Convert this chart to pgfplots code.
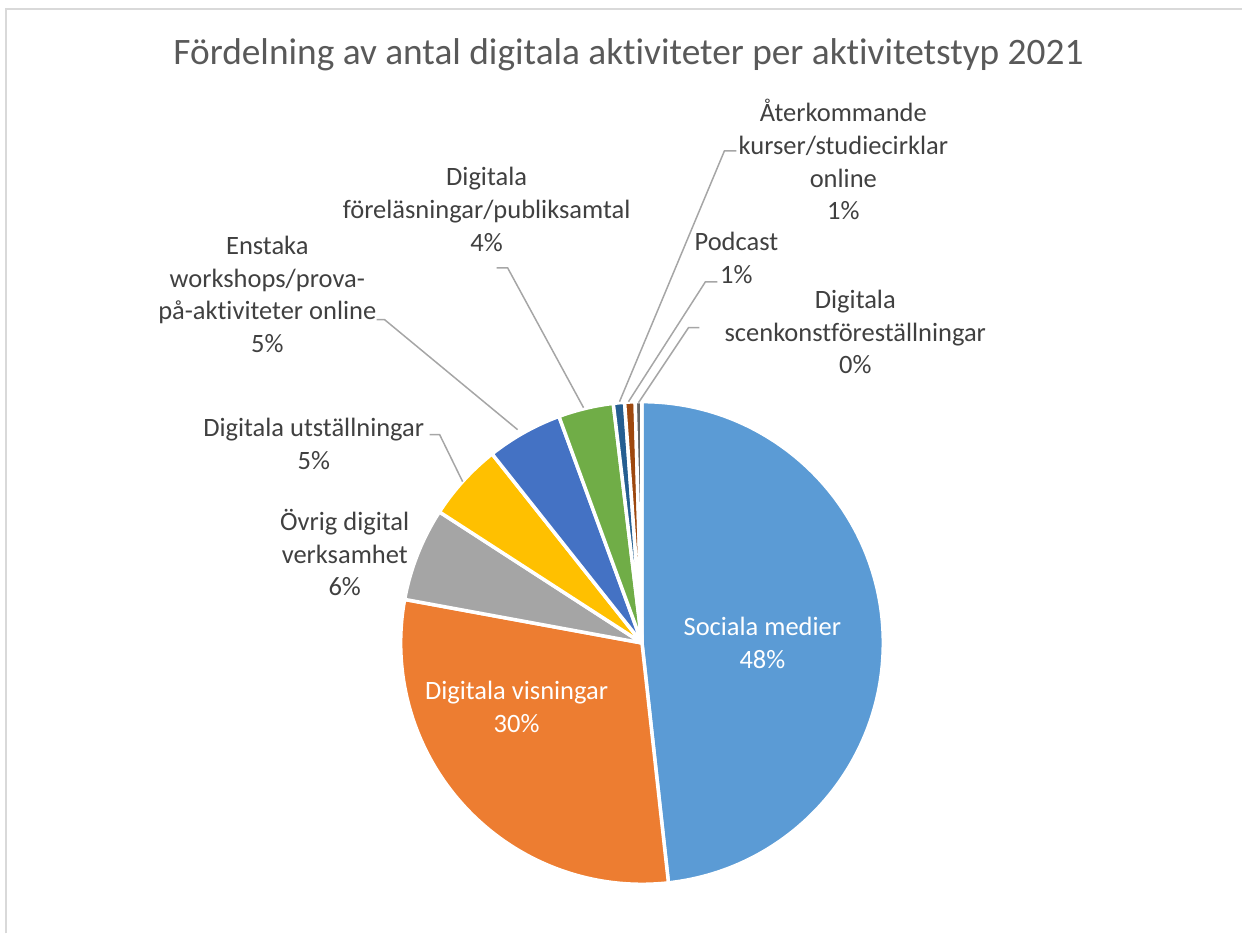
\documentclass[border=0pt]{standalone}
\usepackage{fontspec}
\setmainfont{Carlito}[Ligatures=NoCommon]
\usepackage{pgfplots}
\usepackage{pgfplotstable}
\pgfplotsset{compat=1.18}

\definecolor{cSoc}{HTML}{5B9BD5}
\definecolor{cVis}{HTML}{ED7D31}
\definecolor{cOvr}{HTML}{A5A5A5}
\definecolor{cUts}{HTML}{FFC000}
\definecolor{cWrk}{HTML}{4472C4}
\definecolor{cFor}{HTML}{70AD47}
\definecolor{cAte}{HTML}{255E91}
\definecolor{cPod}{HTML}{9E480E}
\definecolor{cSce}{HTML}{636363}
\definecolor{lblc}{HTML}{404040}
\definecolor{ttlc}{HTML}{595959}
\definecolor{leadc}{HTML}{A6A6A6}
\definecolor{framec}{HTML}{D9D9D9}

% share of activities (percent), clockwise from 12 o'clock
\pgfplotstableread[col sep=comma]{
share,col
48.25,cSoc
29.64,cVis
6.25,cOvr
5.19,cUts
5.08,cWrk
3.69,cFor
0.75,cAte
0.70,cPod
0.45,cSce
}\piedata

\newcommand{\lblfont}{\fontsize{26.6}{32}\selectfont}
% label lines, one node per line: [colour]{x}{first baseline}{lines}
\newcommand{\plabel}[4][lblc]{%
  \foreach \t [count=\n from 0] in {#4} {%
    \node[anchor=base, inner sep=0pt, text=#1, font=\lblfont] at (axis cs:#2,{#3+32.6*\n}) {\t};}}

\begin{document}
\begin{tikzpicture}
\begin{axis}[
    x=1bp, y=1bp,
    xmin=0, xmax=1243, ymin=0, ymax=934,
    y dir=reverse,
    hide axis,
    clip=false,
  ]
\pgfplotsextra{
  \path (axis cs:0,0) rectangle (axis cs:1243,934);
  % chart frame
  \draw[framec, line width=2bp] (axis cs:6,934) -- (axis cs:6,9.5) -- (axis cs:1243,9.5);
  % slices
  \pgfplotstablegetrowsof{\piedata}
  \pgfmathtruncatemacro{\nrows}{\pgfplotsretval-1}
  \gdef\cum{0}
  \foreach \k in {0,...,\nrows}{
    \pgfplotstablegetelem{\k}{share}\of\piedata
    \let\sh\pgfplotsretval
    \pgfplotstablegetelem{\k}{col}\of\piedata
    \let\cc\pgfplotsretval
    \pgfmathsetmacro{\aa}{90-3.6*\cum}
    \pgfmathsetmacro{\bb}{90-3.6*(\cum+\sh)}
    \filldraw[fill=\cc, draw=white, line width=3.5bp, line join=round]
      (axis cs:642.5,643.5) -- ++(\aa:241.5bp) arc[start angle=\aa, end angle=\bb, radius=241.5bp] -- cycle;
    \pgfmathsetmacro{\nc}{\cum+\sh}
    \xdef\cum{\nc}
  }
  % leader lines
  \draw[leadc, line width=1.5bp] (axis cs:430,435) -- (axis cs:440,435) -- (axis cs:463,482);
  \draw[leadc, line width=1.5bp] (axis cs:377,320) -- (axis cs:385,320) -- (axis cs:518,430);
  \draw[leadc, line width=1.5bp] (axis cs:497,268) -- (axis cs:508,268) -- (axis cs:584,408);
  \draw[leadc, line width=1.5bp] (axis cs:737,151) -- (axis cs:725,151) -- (axis cs:620,402);
  \draw[leadc, line width=1.5bp] (axis cs:718,282) -- (axis cs:706,282) -- (axis cs:629,402);
  \draw[leadc, line width=1.5bp] (axis cs:700,328) -- (axis cs:689,328) -- (axis cs:639,403);
  % title
  \node[anchor=base, inner sep=0pt, text=ttlc, font=\fontsize{37.5}{45}\selectfont]
    at (axis cs:629,65) {Fördelning av antal digitala aktiviteter per aktivitetstyp 2021};
  % data labels
  \plabel[white]{763}{636}{Sociala medier,48\%}
  \plabel[white]{517}{700}{Digitala visningar,30\%}
  \plabel{345}{531}{Övrig digital,verksamhet,6\%}
  \plabel{314}{437}{Digitala utställningar,5\%}
  \plabel{267.5}{255}{Enstaka,workshops/prova-,på-aktiviteter online,5\%}
  \plabel{487}{186}{Digitala,föreläsningar/publiksamtal,4\%}
  \plabel{844}{122}{Återkommande,kurser/studiecirklar,online,1\%}
  \plabel{737}{251}{Podcast,1\%}
  \plabel{856}{309}{Digitala,scenkonstföreställningar,0\%}
}
\end{axis}
\end{tikzpicture}
\end{document}
